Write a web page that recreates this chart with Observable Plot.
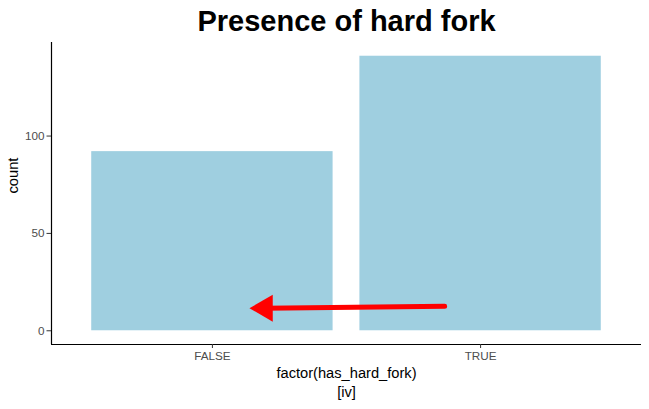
<!DOCTYPE html>
<html>
<head>
<meta charset="utf-8">
<script src="https://cdn.jsdelivr.net/npm/d3@7"></script>
<script src="https://cdn.jsdelivr.net/npm/@observablehq/plot@0.6"></script>
<style>
  html, body { margin: 0; padding: 0; background: #fff; }
  #chart svg { display: block; }
  #chart svg [aria-label="y-axis tick label"], #chart svg [aria-label="x-axis tick label"] { fill: #4d4d4d; }
  #chart svg [aria-label="y-axis tick"], #chart svg [aria-label="x-axis tick"] { stroke: #333333; }
</style>
</head>
<body>
<div id="chart"></div>
<script>
const categories = ["FALSE", "TRUE"];
const counts = [92, 141];
const yTicks = [0, 50, 100];
const title = "Presence of hard fork";
const xLabel = "factor(has_hard_fork)";
const yLabel = "count";
const caption = "[iv]";
// annotation arrow (data coordinates: x position index scale, y count)
const arrowX = [1.866, 1.196];
const arrowY = [12.6, 11.6];

const font = "'Liberation Sans', Arial, Helvetica, sans-serif";
const yMax = d3.max(counts);
const yDomain = [-0.05 * yMax, yMax * 1.05];
const xDomain = [0.4, categories.length + 0.6];
const arrowPts = arrowX.map((x, i) => ({x, y: arrowY[i]}));

const plot = Plot.plot({
  width: 649,
  height: 409,
  marginTop: 42,
  marginBottom: 65,
  marginLeft: 51,
  marginRight: 8,
  style: {fontFamily: font, fontSize: "11.7px", background: "#fff", color: "#000"},
  x: {domain: xDomain, label: null},
  y: {domain: yDomain, label: null},
  marks: [
    Plot.rectY(categories, {
      x1: (d, i) => i + 1 - 0.45,
      x2: (d, i) => i + 1 + 0.45,
      y1: 0,
      y2: (d, i) => counts[i],
      fill: "#9fcfe0"
    }),
    Plot.ruleY([yDomain[0]], {stroke: "#000", strokeWidth: 1.2}),
    Plot.ruleX([xDomain[0]], {stroke: "#000", strokeWidth: 1.2}),
    Plot.axisY({ticks: yTicks, tickSize: 4.5, tickPadding: 2.5, label: null, fontSize: 11.7}),
    Plot.axisX({ticks: categories.map((d, i) => i + 1), tickFormat: v => categories[v - 1], tickSize: 4, tickPadding: 3, label: null, fontSize: 11.7}),
    Plot.line(arrowPts, {x: "x", y: "y", stroke: "#ff0000", strokeWidth: 5}),
    Plot.dot(arrowPts.slice(-1), {x: "x", y: "y", symbol: "triangle", rotate: -90, r: 10, fill: "#ff0000", stroke: "none"}),
    Plot.text([title], {frameAnchor: "top", dy: -21, lineAnchor: "middle", fontSize: 29, fontWeight: "bold", fill: "#000"}),
    Plot.text([xLabel], {frameAnchor: "bottom", dy: 29, lineAnchor: "middle", fontSize: 14.67, fill: "#000"}),
    Plot.text([caption], {frameAnchor: "bottom", dy: 48, lineAnchor: "middle", fontSize: 14.67, fill: "#000"}),
    Plot.text([yLabel], {frameAnchor: "left", dx: -38, rotate: -90, lineAnchor: "middle", fontSize: 14.67, fill: "#000"})
  ]
});
document.getElementById("chart").appendChild(plot);
</script>
</body>
</html>
